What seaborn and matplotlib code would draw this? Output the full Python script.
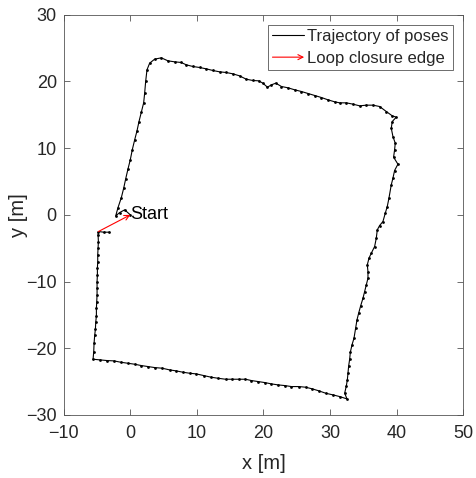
import numpy as np
import pandas as pd
import matplotlib
matplotlib.use("Agg")
import matplotlib.pyplot as plt
import matplotlib.patches as mpatches
from matplotlib.lines import Line2D
from matplotlib.legend_handler import HandlerBase
import seaborn as sns

# ---- data ----
pose_x = [0.0, -0.85, -1.6, -2.2, -1.85, -1.35, -1.0, -0.7, -0.35, 0.0, 0.3, 0.65, 1.0, 1.3,
          1.65, 2.0, 2.15, 2.3, 2.5, 2.9, 3.65, 4.65,
          5.65, 6.65, 7.65, 8.4, 9.4, 10.4, 11.4, 12.4, 13.4, 14.4, 15.4, 16.4, 17.4, 18.4,
          19.3, 19.9, 20.6, 21.2, 21.85, 22.7, 23.7, 24.7, 25.7, 26.7, 27.7, 28.7, 29.7,
          30.7, 31.45, 32.45, 33.45, 34.45, 35.45, 36.45, 37.45, 38.45, 39.35, 39.95,
          39.35, 39.2, 39.45, 39.8, 39.7, 39.55, 40.2, 39.7, 39.45, 39.2, 38.85, 38.6, 38.3,
          37.95, 37.45, 37.1, 36.95, 36.7, 36.2, 35.85, 35.6, 35.7, 35.7, 35.45, 35.2, 34.95,
          34.6, 34.3, 34.05, 33.85, 33.6, 33.3, 33.05, 32.95, 32.8, 32.7, 32.6, 32.45, 32.2,
          32.55,
          31.45, 30.45, 29.35, 28.35, 27.35, 26.35, 25.35, 24.2, 23.2, 22.2, 21.2, 20.2, 19.2,
          18.2, 17.3, 16.3, 15.3, 14.3, 13.15, 12.15, 11.0, 9.9, 8.9, 7.9, 6.9, 5.9, 4.8, 3.65,
          2.65, 1.65, 0.65, -0.35, -1.45, -2.45, -3.5, -4.6, -5.6,
          -5.5, -5.45, -5.35, -5.25, -5.2, -5.1, -5.1, -5.05, -5.0, -5.0, -5.0, -4.95, -4.95,
          -4.9, -4.9, -4.85, -4.8, -4.85, -4.8, -4.0, -3.2]
pose_y = [0.0, 0.75, 0.35, -0.15, 1.1, 2.6, 4.0, 5.4, 6.9, 8.3, 9.8, 11.25, 12.6, 14.0,
          15.4, 16.8, 18.25, 20.0, 21.75, 22.75, 23.35, 23.55,
          23.1, 22.95, 22.85, 22.5, 22.25, 22.1, 21.9, 21.65, 21.45, 21.35, 21.15, 20.85,
          20.35, 20.15, 20.1, 19.75, 19.15, 19.5, 19.75, 19.25, 19.05, 18.75, 18.5, 18.2,
          17.9, 17.6, 17.25, 16.95, 16.8, 16.8, 16.6, 16.35, 16.45, 16.45, 16.25, 15.5,
          14.85, 14.65,
          14.0, 13.0, 11.75, 10.75, 9.75, 8.65, 7.6, 6.65, 5.5, 4.5, 2.5, 1.25, 0.25, -1.0,
          -1.6, -2.25, -3.5, -4.75, -5.75, -6.5, -7.5, -8.5, -9.5, -10.5, -11.5, -12.5,
          -13.65, -14.75, -15.75, -17.0, -18.5, -19.5, -20.6, -21.65, -22.65, -23.65, -24.75,
          -25.65, -26.75, -27.6,
          -27.25, -27.0, -26.75, -26.4, -26.1, -25.85, -25.75, -25.75, -25.6, -25.5, -25.35,
          -25.15, -25.0, -24.85, -24.65, -24.65, -24.65, -24.65, -24.5, -24.35, -24.1, -23.85,
          -23.75, -23.6, -23.4, -23.25, -23.0, -22.9, -22.75, -22.6, -22.4, -22.25, -22.1,
          -21.9, -21.85, -21.75, -21.65,
          -20.5, -19.25, -18.0, -17.15, -16.1, -15.15, -14.0, -13.0, -12.0, -11.0, -10.0,
          -9.0, -8.0, -7.0, -6.0, -5.0, -4.0, -3.0, -2.5, -2.6, -2.6]

loop_from = [-4.8, -2.5]
loop_to = [0.0, 0.0]
start_pos = [0.0, 0.0]

x_ticks = [-10, 0, 10, 20, 30, 40, 50]
y_ticks = [-30, -20, -10, 0, 10, 20, 30]

df = pd.DataFrame({"x": pose_x, "y": pose_y, "order": np.arange(len(pose_x))})

# ---- style ----
sns.set_style("ticks")
plt.rcParams["font.family"] = ["Liberation Sans", "DejaVu Sans"]
text_gray = "#262626"
line_gray = "#555555"

fig = plt.figure(figsize=(4.76, 4.78), dpi=100)
ax = fig.add_axes([0.134, 0.132, 0.839, 0.837])

sns.lineplot(data=df, x="x", y="y", sort=False, estimator=None, ax=ax,
             color="black", linewidth=0.8, marker=".", markersize=4,
             markeredgewidth=0, markerfacecolor="black")

ax.annotate("", xy=(loop_to[0], loop_to[1]), xytext=(loop_from[0], loop_from[1]),
            arrowprops=dict(arrowstyle="->", color="red", lw=0.8,
                            shrinkA=0, shrinkB=0, mutation_scale=9))
ax.text(start_pos[0], start_pos[1], "Start", fontsize=13, ha="left", va="center",
        color="black")

ax.set_xlim(x_ticks[0], x_ticks[-1])
ax.set_ylim(y_ticks[0], y_ticks[-1])
ax.set_xticks(x_ticks)
ax.set_yticks(y_ticks)
ax.set_xlabel("x [m]", fontsize=14.5, color=text_gray, labelpad=9)
ax.set_ylabel("y [m]", fontsize=14.5, color=text_gray, labelpad=-1)
ax.tick_params(direction="in", top=True, right=True, length=4, width=0.6,
               labelsize=13, color=line_gray, labelcolor=text_gray)
ax.tick_params(axis="x", pad=7)
ax.tick_params(axis="y", pad=5)
for s in ax.spines.values():
    s.set_visible(True)
    s.set_linewidth(0.6)
    s.set_color(line_gray)


class HandlerArrow(HandlerBase):
    def create_artists(self, legend, orig_handle, xdescent, ydescent, width, height,
                       fontsize, trans):
        y = height / 2 - ydescent
        a = mpatches.FancyArrowPatch((-xdescent, y), (width - xdescent, y),
                                     arrowstyle="->", mutation_scale=9,
                                     color="red", lw=0.8, transform=trans,
                                     shrinkA=0, shrinkB=0)
        return [a]


traj_handle = Line2D([], [], color="black", linewidth=0.8)
arrow_handle = mpatches.Patch(color="red")
leg = ax.legend([traj_handle, arrow_handle], ["Trajectory of poses", "Loop closure edge"],
                handler_map={mpatches.Patch: HandlerArrow()},
                loc="upper right", fontsize=12, frameon=True, fancybox=False,
                edgecolor=line_gray, framealpha=1, borderpad=0.25, handlelength=1.9,
                handletextpad=0.2, labelspacing=0.42, borderaxespad=0.6)
leg.get_frame().set_linewidth(0.6)

fig.savefig("out.png", dpi=100)
